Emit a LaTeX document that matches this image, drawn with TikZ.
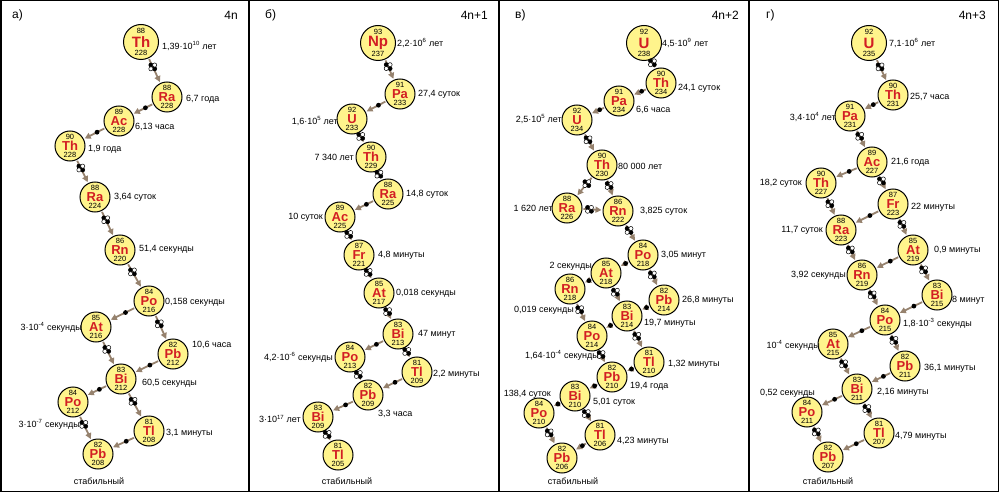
\documentclass[tikz,border=0pt]{standalone}
\usepackage{fontspec}
\setmainfont{Liberation Sans}
\usetikzlibrary{arrows.meta,calc}

\definecolor{nucfill}{RGB}{255,244,140}
\definecolor{symred}{RGB}{210,30,35}
\definecolor{decaybrown}{RGB}{150,130,110}

% nucleus: [style]{name}{position}{Z}{symbol}{A}
\newcommand{\nuc}[6][nucl]{%
  \node[#1] (#2) at (#3) {#5};
  \node[num] at ($(#2.center)!0.6!(#2.north)$) {#4};
  \node[num] at ($(#2.center)!0.6!(#2.south)$) {#6};
}
% alpha and beta decay arrows
\newcommand{\adecay}[2]{%
  \draw[decay] (#1) -- coordinate[pos=0.35] (em) (#2);
  \pic at (em) {alphap};
}
\newcommand{\bdecay}[2]{%
  \draw[decay] (#1) -- coordinate[pos=0.38] (em) (#2);
  \pic at (em) {betap};
}

\begin{document}
\begin{tikzpicture}[x=1pt, y=-1pt,
    nucl/.style={circle, draw, line width=1pt, fill=nucfill, minimum size=30pt, inner sep=0pt, text=symred, font=\fontsize{13}{13}\selectfont\bfseries},
    big/.style={nucl, minimum size=35pt, font=\fontsize{15}{15}\selectfont\bfseries},
    num/.style={inner sep=0pt, font=\fontsize{7.5}{7.5}\selectfont},
    hl/.style={inner sep=0pt, font=\fontsize{9}{10}\selectfont},
    title/.style={inner sep=0pt, font=\fontsize{12}{12}\selectfont},
    decay/.style={draw=decaybrown, line width=1.8pt, -{Triangle[width=6pt,length=6pt]}, shorten <=1pt, shorten >=1pt},
    alphap/.pic={
      \foreach \dx/\dy/\col in {-1.9/-1.9/black, 1.9/1.9/black, 1.9/-1.9/white, -1.9/1.9/white}
        \filldraw[fill=\col, draw=black, line width=0.5pt] (\dx,\dy) circle (2.1pt);
    },
    betap/.pic={\fill[black] (0,0) circle (2.4pt);}
]
    \useasboundingbox (0,0) rectangle (999,492);

    % Frame and panel dividers
    \draw[line width=1.5pt] (0.75,0.75) rectangle (998.25,491.25);
    \draw[line width=1.2pt] (249,0) -- (249,492);
    \draw[line width=1.2pt] (499,0) -- (499,492);
    \draw[line width=1.2pt] (749,0) -- (749,492);

    % Panel titles
    \node[title, anchor=west] (ta) at (12,15) {а)};
    \node[title, anchor=east] (sa) at (238,15) {4n};
    \node[title, anchor=west] (tb) at (265,15) {б)};
    \node[title, anchor=east] (sb) at (488,15) {4n+1};
    \node[title, anchor=west] (tc) at (515,15) {в)};
    \node[title, anchor=east] (sc) at (739,15) {4n+2};
    \node[title, anchor=west] (td) at (766,15) {г)};
    \node[title, anchor=east] (sd) at (986,15) {4n+3};

    % ---------- а) 4n ----------
    \nuc[big]{aTh0}{141,42}{88}{Th}{228}
    \nuc{aRa228}{167,97}{88}{Ra}{228}
    \nuc{aAc228}{119,121}{89}{Ac}{228}
    \nuc{aTh228}{70,146}{90}{Th}{228}
    \nuc{aRa224}{95,197}{88}{Ra}{224}
    \nuc{aRn220}{120,250}{86}{Rn}{220}
    \nuc{aPo216}{149,301}{84}{Po}{216}
    \nuc{aAt216}{96,327}{85}{At}{216}
    \nuc{aPb212}{173,354}{82}{Pb}{212}
    \nuc{aBi212}{121,379}{83}{Bi}{212}
    \nuc{aPo212}{73,402}{84}{Po}{212}
    \nuc{aTl208}{149,431}{81}{Tl}{208}
    \nuc{aPb208}{98,454}{82}{Pb}{208}

    \adecay{aTh0}{aRa228}
    \bdecay{aRa228}{aAc228}
    \bdecay{aAc228}{aTh228}
    \adecay{aTh228}{aRa224}
    \adecay{aRa224}{aRn220}
    \adecay{aRn220}{aPo216}
    \bdecay{aPo216}{aAt216}
    \adecay{aPo216}{aPb212}
    \adecay{aAt216}{aBi212}
    \bdecay{aPb212}{aBi212}
    \bdecay{aBi212}{aPo212}
    \adecay{aBi212}{aTl208}
    \adecay{aPo212}{aPb208}
    \bdecay{aTl208}{aPb208}

    \node[hl, anchor=west] at (162,46) {1,39·10\textsuperscript{10} лет};
    \node[hl, anchor=west] at (186,99) {6,7 года};
    \node[hl, anchor=west] at (135,127) {6,13 часа};
    \node[hl, anchor=west] at (88,149) {1,9 года};
    \node[hl, anchor=west] at (114,197) {3,64 суток};
    \node[hl, anchor=west] at (139,249) {51,4 секунды};
    \node[hl, anchor=west] at (165,302) {0,158 секунды};
    \node[hl, anchor=east] at (82,327) {3·10\textsuperscript{-4} секунды};
    \node[hl, anchor=west] at (192,345) {10,6 часа};
    \node[hl, anchor=west] at (142,383) {60,5 секунды};
    \node[hl, anchor=east] at (80,424) {3·10\textsuperscript{-7} секунды};
    \node[hl, anchor=west] at (166,433) {3,1 минуты};
    \node[hl] at (99,481) {стабильный};

    % ---------- б) 4n+1 ----------
    \nuc[big]{bNp237}{378,43}{93}{Np}{237}
    \nuc{bPa233}{400,94}{91}{Pa}{233}
    \nuc{bU233}{352,119}{92}{U}{233}
    \nuc{bTh229}{371,157}{90}{Th}{229}
    \nuc{bRa225}{388,194}{88}{Ra}{225}
    \nuc{bAc225}{340,217}{89}{Ac}{225}
    \nuc{bFr221}{359,255}{87}{Fr}{221}
    \nuc{bAt217}{379,293}{85}{At}{217}
    \nuc{bBi213}{398,334}{83}{Bi}{213}
    \nuc{bPo213}{350,357}{84}{Po}{213}
    \nuc{bTl209}{417,372}{81}{Tl}{209}
    \nuc{bPb209}{368,395}{82}{Pb}{209}
    \nuc{bBi209}{318,417}{83}{Bi}{209}
    \nuc{bTl205}{338,455}{81}{Tl}{205}

    \adecay{bNp237}{bPa233}
    \bdecay{bPa233}{bU233}
    \adecay{bU233}{bTh229}
    \adecay{bTh229}{bRa225}
    \bdecay{bRa225}{bAc225}
    \adecay{bAc225}{bFr221}
    \adecay{bFr221}{bAt217}
    \adecay{bAt217}{bBi213}
    \bdecay{bBi213}{bPo213}
    \adecay{bBi213}{bTl209}
    \adecay{bPo213}{bPb209}
    \bdecay{bTl209}{bPb209}
    \bdecay{bPb209}{bBi209}
    \adecay{bBi209}{bTl205}

    \node[hl, anchor=west] at (397,43) {2,2·10\textsuperscript{6} лет};
    \node[hl, anchor=west] at (418,94) {27,4 суток};
    \node[hl, anchor=east] at (338,121) {1,6·10\textsuperscript{5} лет};
    \node[hl, anchor=east] at (354,157) {7 340 лет};
    \node[hl, anchor=west] at (406,194) {14,8 суток};
    \node[hl, anchor=east] at (323,217) {10 суток};
    \node[hl, anchor=west] at (378,255) {4,8 минуты};
    \node[hl, anchor=west] at (396,293) {0,018 секунды};
    \node[hl, anchor=west] at (418,334) {47 минут};
    \node[hl, anchor=east] at (333,357) {4,2·10\textsuperscript{-6} секунды};
    \node[hl, anchor=west] at (433,374) {2,2 минуты};
    \node[hl, anchor=west] at (378,414) {3,3 часа};
    \node[hl, anchor=east] at (301,419) {3·10\textsuperscript{17} лет};
    \node[hl] at (347,481) {стабильный};

    % ---------- в) 4n+2 ----------
    \nuc[big]{cU238}{644,43}{92}{U}{238}
    \nuc{cTh234}{661,83}{90}{Th}{234}
    \nuc{cPa234}{619,101}{91}{Pa}{234}
    \nuc{cU234}{577,120}{92}{U}{234}
    \nuc{cTh230}{602,165}{90}{Th}{230}
    \nuc{cRa226}{567,208}{88}{Ra}{226}
    \nuc{cRn222}{618,211}{86}{Rn}{222}
    \nuc{cPo218}{643,255}{84}{Po}{218}
    \nuc{cAt218}{606,273}{85}{At}{218}
    \nuc{cRn218}{570,289}{86}{Rn}{218}
    \nuc{cPb214}{664,300}{82}{Pb}{214}
    \nuc{cBi214}{627,316}{83}{Bi}{214}
    \nuc{cPo214}{592,336}{84}{Po}{214}
    \nuc{cTl210}{649,362}{81}{Tl}{210}
    \nuc{cPb210}{612,377}{82}{Pb}{210}
    \nuc{cBi210}{575,396}{83}{Bi}{210}
    \nuc{cPo210}{539,413}{84}{Po}{210}
    \nuc{cTl206}{600,435}{81}{Tl}{206}
    \nuc{cPb206}{562,458}{82}{Pb}{206}

    \adecay{cU238}{cTh234}
    \bdecay{cTh234}{cPa234}
    \bdecay{cPa234}{cU234}
    \adecay{cU234}{cTh230}
    \adecay{cTh230}{cRa226}
    \adecay{cTh230}{cRn222}
    \adecay{cRa226}{cRn222}
    \adecay{cRn222}{cPo218}
    \bdecay{cPo218}{cAt218}
    \adecay{cPo218}{cPb214}
    \bdecay{cAt218}{cRn218}
    \adecay{cAt218}{cBi214}
    \bdecay{cPb214}{cBi214}
    \adecay{cRn218}{cPo214}
    \bdecay{cBi214}{cPo214}
    \adecay{cBi214}{cTl210}
    \adecay{cPo214}{cPb210}
    \bdecay{cTl210}{cPb210}
    \bdecay{cPb210}{cBi210}
    \bdecay{cBi210}{cPo210}
    \adecay{cBi210}{cTl206}
    \adecay{cPo210}{cPb206}
    \bdecay{cTl206}{cPb206}

    \node[hl, anchor=west] at (662,43) {4,5·10\textsuperscript{9} лет};
    \node[hl, anchor=west] at (678,88) {24,1 суток};
    \node[hl, anchor=west] at (636,110) {6,6 часа};
    \node[hl, anchor=east] at (562,119) {2,5·10\textsuperscript{5} лет};
    \node[hl, anchor=west] at (618,166) {80 000 лет};
    \node[hl, anchor=east] at (553,208) {1 620 лет};
    \node[hl, anchor=west] at (640,211) {3,825 суток};
    \node[hl, anchor=west] at (661,255) {3,05 минут};
    \node[hl, anchor=east] at (592,266) {2 секунды};
    \node[hl, anchor=east] at (574,310) {0,019 секунды};
    \node[hl, anchor=west] at (682,300) {26,8 минуты};
    \node[hl, anchor=west] at (644,323) {19,7 минуты};
    \node[hl, anchor=east] at (599,355) {1,64·10\textsuperscript{-4} секунды};
    \node[hl, anchor=west] at (668,364) {1,32 минуты};
    \node[hl, anchor=west] at (630,386) {19,4 года};
    \node[hl, anchor=west] at (593,402) {5,01 суток};
    \node[hl, anchor=east] at (551,394) {138,4 суток};
    \node[hl, anchor=west] at (617,441) {4,23 минуты};
    \node[hl] at (573,481) {стабильный};

    % ---------- г) 4n+3 ----------
    \nuc[big]{dU235}{869,43}{92}{U}{235}
    \nuc{dTh231}{893,95}{90}{Th}{231}
    \nuc{dPa231}{850,116}{91}{Pa}{231}
    \nuc{dAc227}{872,162}{89}{Ac}{227}
    \nuc{dTh227}{821,183}{90}{Th}{227}
    \nuc{dFr223}{893,204}{87}{Fr}{223}
    \nuc{dRa223}{841,230}{88}{Ra}{223}
    \nuc{dAt219}{913,250}{85}{At}{219}
    \nuc{dRn219}{862,275}{86}{Rn}{219}
    \nuc{dBi215}{937,295}{83}{Bi}{215}
    \nuc{dPo215}{885,320}{84}{Po}{215}
    \nuc{dAt215}{833,344}{85}{At}{215}
    \nuc{dPb211}{905,366}{82}{Pb}{211}
    \nuc{dBi211}{857,389}{83}{Bi}{211}
    \nuc{dPo211}{807,412}{84}{Po}{211}
    \nuc{dTl207}{879,433}{81}{Tl}{207}
    \nuc{dPb207}{828,457}{82}{Pb}{207}

    \adecay{dU235}{dTh231}
    \bdecay{dTh231}{dPa231}
    \adecay{dPa231}{dAc227}
    \bdecay{dAc227}{dTh227}
    \adecay{dAc227}{dFr223}
    \adecay{dTh227}{dRa223}
    \bdecay{dFr223}{dRa223}
    \adecay{dFr223}{dAt219}
    \adecay{dRa223}{dRn219}
    \bdecay{dAt219}{dRn219}
    \adecay{dAt219}{dBi215}
    \adecay{dRn219}{dPo215}
    \bdecay{dBi215}{dPo215}
    \bdecay{dPo215}{dAt215}
    \adecay{dPo215}{dPb211}
    \adecay{dAt215}{dBi211}
    \bdecay{dPb211}{dBi211}
    \bdecay{dBi211}{dPo211}
    \adecay{dBi211}{dTl207}
    \adecay{dPo211}{dPb207}
    \bdecay{dTl207}{dPb207}

    \node[hl, anchor=west] at (889,43) {7,1·10\textsuperscript{6} лет};
    \node[hl, anchor=west] at (910,97) {25,7 часа};
    \node[hl, anchor=east] at (836,117) {3,4·10\textsuperscript{4} лет};
    \node[hl, anchor=west] at (891,162) {21,6 года};
    \node[hl, anchor=east] at (802,183) {18,2 суток};
    \node[hl, anchor=west] at (911,207) {22 минуты};
    \node[hl, anchor=east] at (823,230) {11,7 суток};
    \node[hl, anchor=west] at (934,250) {0,9 минуты};
    \node[hl, anchor=east] at (846,275) {3,92 секунды};
    \node[hl, anchor=west] at (952,300) {8 минут};
    \node[hl, anchor=west] at (903,323) {1,8·10\textsuperscript{-3} секунды};
    \node[hl, anchor=east] at (820,345) {10\textsuperscript{-4} секунды};
    \node[hl, anchor=west] at (924,368) {36,1 минуты};
    \node[hl, anchor=west] at (877,392) {2,16 минуты};
    \node[hl, anchor=east] at (815,393) {0,52 секунды};
    \node[hl, anchor=west] at (895,436) {4,79 минуты};
    \node[hl] at (828,481) {стабильный};
\end{tikzpicture}
\end{document}
